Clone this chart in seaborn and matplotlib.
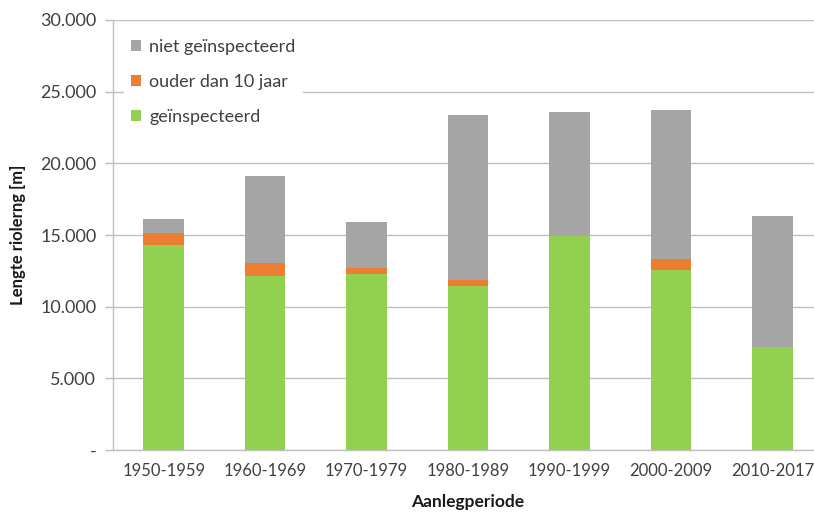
import matplotlib
matplotlib.use("Agg")
import matplotlib.pyplot as plt
import seaborn as sns
import pandas as pd
import numpy as np
from matplotlib.ticker import FuncFormatter, FixedLocator

periods = ["1950-1959", "1960-1969", "1970-1979", "1980-1989", "1990-1999", "2000-2009", "2010-2017"]
geinspecteerd = [14300, 12150, 12250, 11450, 14900, 12550, 7200]
ouder_dan_10 = [850, 900, 480, 400, 0, 770, 0]
niet_geinspecteerd = [1000, 6050, 3170, 11500, 8650, 10390, 9140]

df = pd.DataFrame({
    "periode": periods,
    "green": geinspecteerd,
    "orange": ouder_dan_10,
    "gray": niet_geinspecteerd,
})
df["lvl_orange"] = df["green"] + df["orange"]
df["lvl_total"] = df["lvl_orange"] + df["gray"]

sns.set_theme(style="white")
plt.rcParams["font.family"] = ["Lato", "DejaVu Sans"]

fig = plt.figure(figsize=(8.14, 5.13), dpi=100)
ax = fig.add_axes([113/814, 63/513, 710/814, 430/513])

c_gray = "#A5A5A5"
c_orange = "#ED7D31"
c_green = "#92D050"

kw = dict(width=0.4, ax=ax, saturation=1, linewidth=0, edgecolor="none")
sns.barplot(data=df, x="periode", y="lvl_total", color=c_gray, label="niet geïnspecteerd", **kw)
sns.barplot(data=df, x="periode", y="lvl_orange", color=c_orange, label="ouder dan 10 jaar", **kw)
sns.barplot(data=df, x="periode", y="green", color=c_green, label="geïnspecteerd", **kw)

ax.set_ylim(0, 30000)
ax.set_xlim(-0.5, len(periods) - 0.5)
ax.set_yticks(np.arange(0, 30001, 5000))
ax.yaxis.set_major_formatter(FuncFormatter(
    lambda v, p: "-" if v == 0 else f"{int(v):,}".replace(",", ".")))
ax.yaxis.grid(True, color="#BFBFBF", linewidth=1)
ax.set_axisbelow(True)

ax.xaxis.set_minor_locator(FixedLocator(np.arange(-0.5, len(periods), 1.0)))
ax.tick_params(axis="x", which="major", length=0, pad=9, labelsize=12, labelcolor="#404040")
ax.tick_params(axis="x", which="minor", length=5, color="#BFBFBF", width=1, direction="out")
ax.tick_params(axis="y", which="major", length=6, color="#BFBFBF", width=1, direction="out",
               pad=6, labelsize=13, labelcolor="#404040")
ax.tick_params(axis="both", bottom=True, left=True)

for s in ["top", "right"]:
    ax.spines[s].set_visible(False)
for s in ["left", "bottom"]:
    ax.spines[s].set_color("#BFBFBF")
    ax.spines[s].set_linewidth(1)

ax.set_xlabel("Aanlegperiode", fontsize=12.5, fontweight="bold", color="#1a1a1a", labelpad=11)
ax.set_ylabel("Lengte riolerng [m]", fontsize=12, fontweight="bold", color="#1a1a1a", labelpad=10)

leg = ax.legend(loc="upper left", bbox_to_anchor=(0.008, 0.985), frameon=True,
                facecolor="white", edgecolor="none", framealpha=1,
                fontsize=13, handlelength=0.55, handleheight=0.55, handletextpad=0.45,
                labelspacing=1.05, borderaxespad=0.3, fancybox=False)
for t in leg.get_texts():
    t.set_color("#404040")

fig.savefig("out.png", dpi=100)
